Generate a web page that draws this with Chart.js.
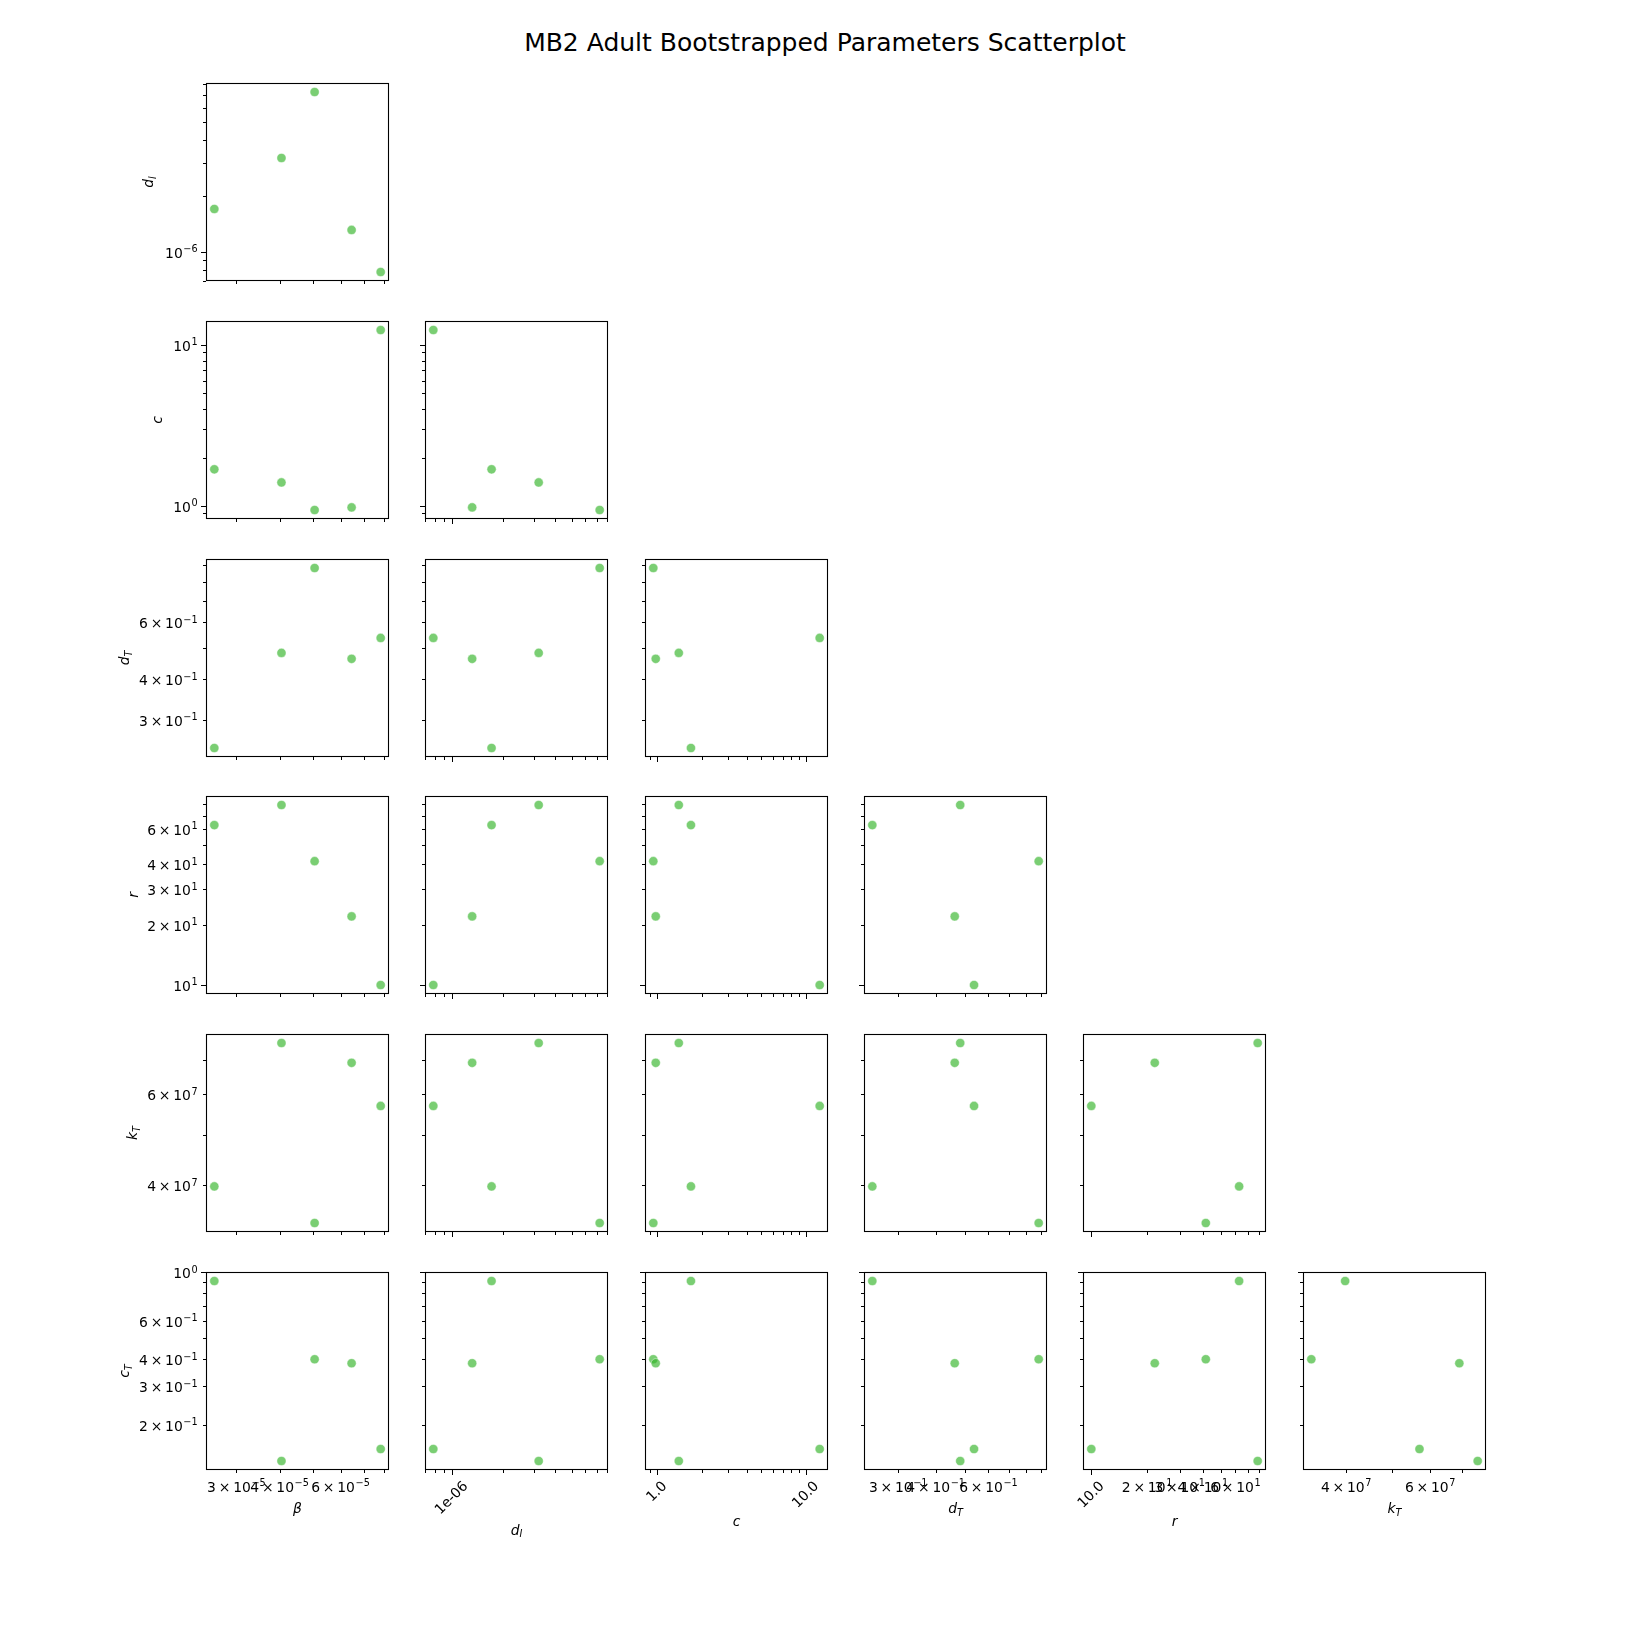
<!DOCTYPE html>
<html>
<head>
<meta charset="utf-8">
<title>MB2 Adult Bootstrapped Parameters Scatterplot</title>
<script src="https://cdn.jsdelivr.net/npm/chart.js@4.4.1/dist/chart.umd.min.js"></script>
<style>
  body { margin: 0; background: #fff; }
  #figure { position: relative; width: 1650px; height: 1650px; overflow: hidden; background: #fff; font-family: "DejaVu Sans", sans-serif; }
  #title { position: absolute; left: 0; top: 28px; width: 1650px; line-height: 30px; text-align: center; font-size: 25px; color: #000; }
  canvas { position: absolute; }
</style>
</head>
<body>
<div id="figure">
  <div id="title">MB2 Adult Bootstrapped Parameters Scatterplot</div>
</div>
<script>
// five bootstrap fits, same sample order in every array
const betaVals = [2.59e-5, 4.05e-5, 5.05e-5, 6.46e-5, 7.84e-5];
const dIVals   = [1.705e-6, 3.21e-6, 7.28e-6, 1.314e-6, 7.8e-7];
const cVals    = [1.69, 1.40, 0.944, 0.98, 12.4];
const dTVals   = [0.246, 0.483, 0.882, 0.463, 0.537];
const rVals    = [62.8, 79.1, 41.5, 22.0, 10.0];
const kTVals   = [3.98e7, 7.55e7, 3.38e7, 6.91e7, 5.70e7];
const cTVals   = [0.912, 0.1366, 0.3995, 0.383, 0.155];

const paramValues = [betaVals, dIVals, cVals, dTVals, rVals, kTVals, cTVals];
// axis label: [symbol, subscript]
const paramSymbols = [["β", ""], ["d", "I"], ["c", ""], ["d", "T"], ["r", ""], ["k", "T"], ["c", "T"]];

// tick labels on the bottom row (x) and first column (y)
// "^{..}" marks a superscript; plain labels are drawn rotated 45deg
const xTickVals = [[3e-5, 4e-5, 6e-5], [1e-6], [1, 10], [0.3, 0.4, 0.6], [10, 20, 30, 40, 60], [4e7, 6e7], []];
const xTickText = [
  ["3×10^{-5}", "4×10^{-5}", "6×10^{-5}"],
  ["1e-06"],
  ["1.0", "10.0"],
  ["3×10^{-1}", "4×10^{-1}", "6×10^{-1}"],
  ["10.0", "2×10^{1}", "3×10^{1}", "4×10^{1}", "6×10^{1}"],
  ["4×10^{7}", "6×10^{7}"],
  []
];
const yTickVals = [[], [1e-6], [1, 10], [0.3, 0.4, 0.6], [10, 20, 30, 40, 60], [4e7, 6e7], [0.2, 0.3, 0.4, 0.6, 1]];
const yTickText = [
  [],
  ["10^{-6}"],
  ["10^{0}", "10^{1}"],
  ["3×10^{-1}", "4×10^{-1}", "6×10^{-1}"],
  ["10^{1}", "2×10^{1}", "3×10^{1}", "4×10^{1}", "6×10^{1}"],
  ["4×10^{7}", "6×10^{7}"],
  ["2×10^{-1}", "3×10^{-1}", "4×10^{-1}", "6×10^{-1}", "10^{0}"]
];

// layout (pixels)
const AX_LEFT0 = 206, COL_STEP = 219.3, AX_W = 183;
const AX_TOP0 = 83, ROW_STEP = 237.8, AX_H = 198;
const yLabelGap = [0, 58, 49, 82, 73, 74, 82];
const xLabelGap = [38, 59.5, 51, 38, 51, 38, 0];

const FONT = '"DejaVu Sans", sans-serif';
const TICK_PX = 13.9;
const SUP_PX = 9.7;

function logLimits(vals) {
  const lo = Math.log10(Math.min(...vals));
  const hi = Math.log10(Math.max(...vals));
  const pad = (hi - lo) * 0.05;
  return { min: Math.pow(10, lo - pad), max: Math.pow(10, hi + pad) };
}

function logTicks(min, max) {
  const out = [];
  for (let e = Math.floor(Math.log10(min)); e <= Math.ceil(Math.log10(max)); e++) {
    for (let k = 1; k <= 9; k++) {
      const v = k * Math.pow(10, e);
      if (v >= min * 0.9999 && v <= max * 1.0001) out.push({ v: v, major: k === 1 });
    }
  }
  return out;
}

function parseSci(txt) {
  const m = txt.match(/^(.*)\^\{(.*)\}$/);
  if (!m) return null;
  return { base: m[1].replace("×", "\u2009×\u2009"), sup: m[2].replace("-", "\u2212") };
}

function drawSci(ctx, parts, x, baseY, align) {
  ctx.font = TICK_PX + "px " + FONT;
  const wb = ctx.measureText(parts.base).width;
  ctx.font = SUP_PX + "px " + FONT;
  const ws = ctx.measureText(parts.sup).width;
  const total = wb + 0.6 + ws;
  const sx = align === "right" ? x - total : x - total / 2;
  ctx.textAlign = "left";
  ctx.textBaseline = "alphabetic";
  ctx.font = TICK_PX + "px " + FONT;
  ctx.fillText(parts.base, sx, baseY);
  ctx.font = SUP_PX + "px " + FONT;
  ctx.fillText(parts.sup, sx + wb + 0.6, baseY - 5.6);
}

function drawRotated(ctx, txt, x, topY) {
  ctx.font = TICK_PX + "px " + FONT;
  const w = ctx.measureText(txt).width;
  const h = TICK_PX * 1.164;
  const box = (w + h) * Math.SQRT1_2;
  ctx.save();
  ctx.translate(x, topY + box / 2);
  ctx.rotate(-Math.PI / 4);
  ctx.textAlign = "center";
  ctx.textBaseline = "middle";
  ctx.fillText(txt, 0, 0);
  ctx.restore();
}

function drawSymbol(ctx, sym, cx, cy, rotate) {
  ctx.save();
  ctx.translate(cx, cy);
  if (rotate) ctx.rotate(-Math.PI / 2);
  const fb = "italic " + TICK_PX + "px " + FONT;
  const fs = "italic " + SUP_PX + "px " + FONT;
  ctx.font = fb;
  const wb = ctx.measureText(sym[0]).width;
  ctx.font = fs;
  const ws = sym[1] ? ctx.measureText(sym[1]).width : 0;
  const sx = -(wb + ws) / 2;
  ctx.textAlign = "left";
  ctx.textBaseline = "alphabetic";
  ctx.font = fb;
  ctx.fillText(sym[0], sx, 5);
  if (sym[1]) {
    ctx.font = fs;
    ctx.fillText(sym[1], sx + wb, 7.5);
  }
  ctx.restore();
}

function axesPlugin(xi, yi, showX, showY) {
  return {
    id: "pairAxes",
    afterDraw(chart) {
      const ctx = chart.ctx;
      const a = chart.chartArea;
      const sx = chart.scales.x, sy = chart.scales.y;
      ctx.save();
      ctx.strokeStyle = "#000";
      ctx.fillStyle = "#000";
      ctx.lineWidth = 1;

      // tick marks, outward
      ctx.beginPath();
      logTicks(sx.min, sx.max).forEach(t => {
        const px = Math.round(sx.getPixelForValue(t.v)) + 0.5;
        ctx.moveTo(px, a.bottom);
        ctx.lineTo(px, a.bottom + (t.major ? 5 : 3));
      });
      logTicks(sy.min, sy.max).forEach(t => {
        const py = Math.round(sy.getPixelForValue(t.v)) + 0.5;
        ctx.moveTo(a.left, py);
        ctx.lineTo(a.left - (t.major ? 5 : 3), py);
      });
      ctx.stroke();

      // frame
      ctx.lineWidth = 1.1;
      ctx.strokeRect(Math.round(a.left) + 0.5, Math.round(a.top) + 0.5,
                     Math.round(a.width) - 1, Math.round(a.height) - 1);

      if (showX) {
        xTickVals[xi].forEach((v, k) => {
          if (v < sx.min * 0.9999 || v > sx.max * 1.0001) return;
          const px = sx.getPixelForValue(v);
          const parts = parseSci(xTickText[xi][k]);
          if (parts) drawSci(ctx, parts, px, a.bottom + 22, "center");
          else drawRotated(ctx, xTickText[xi][k], px, a.bottom + 8.4);
        });
        drawSymbol(ctx, paramSymbols[xi], (a.left + a.right) / 2, a.bottom + xLabelGap[xi], false);
      }
      if (showY) {
        yTickVals[yi].forEach((v, k) => {
          if (v < sy.min * 0.9999 || v > sy.max * 1.0001) return;
          const py = sy.getPixelForValue(v);
          const parts = parseSci(yTickText[yi][k]);
          if (parts) drawSci(ctx, parts, a.left - 8.4, py + 6, "right");
          else {
            ctx.font = TICK_PX + "px " + FONT;
            ctx.textAlign = "right";
            ctx.textBaseline = "middle";
            ctx.fillText(yTickText[yi][k], a.left - 8.4, py);
          }
        });
        drawSymbol(ctx, paramSymbols[yi], a.left - yLabelGap[yi], (a.top + a.bottom) / 2, true);
      }
      ctx.restore();
    }
  };
}

function makePanel(row, col) {
  const xi = col, yi = row + 1;
  const showX = row === 5, showY = col === 0;
  const padL = showY ? 130 : 20, padR = 45, padT = 15, padB = showX ? 100 : 20;
  const left = Math.round(AX_LEFT0 + col * COL_STEP);
  const top = Math.round(AX_TOP0 + row * ROW_STEP);

  const canvas = document.createElement("canvas");
  canvas.width = AX_W + padL + padR;
  canvas.height = AX_H + padT + padB;
  canvas.style.left = (left - padL) + "px";
  canvas.style.top = (top - padT) + "px";
  document.getElementById("figure").appendChild(canvas);

  const xs = paramValues[xi], ys = paramValues[yi];
  const xr = logLimits(xs), yr = logLimits(ys);

  new Chart(canvas, {
    type: "scatter",
    data: {
      datasets: [{
        data: xs.map((x, k) => ({ x: x, y: ys[k] })),
        pointRadius: 4.6,
        pointHoverRadius: 4.6,
        pointBackgroundColor: "rgba(50, 180, 40, 0.65)",
        pointBorderColor: "rgba(255, 255, 255, 0.55)",
        pointBorderWidth: 0.8
      }]
    },
    options: {
      responsive: false,
      animation: false,
      events: [],
      layout: { padding: { left: padL, right: padR, top: padT, bottom: padB } },
      plugins: { legend: { display: false }, tooltip: { enabled: false } },
      scales: {
        x: { type: "logarithmic", display: false, min: xr.min, max: xr.max },
        y: { type: "logarithmic", display: false, min: yr.min, max: yr.max }
      }
    },
    plugins: [axesPlugin(xi, yi, showX, showY)]
  });
}

for (let row = 0; row < 6; row++) {
  for (let col = 0; col <= row; col++) {
    makePanel(row, col);
  }
}
</script>
</body>
</html>
